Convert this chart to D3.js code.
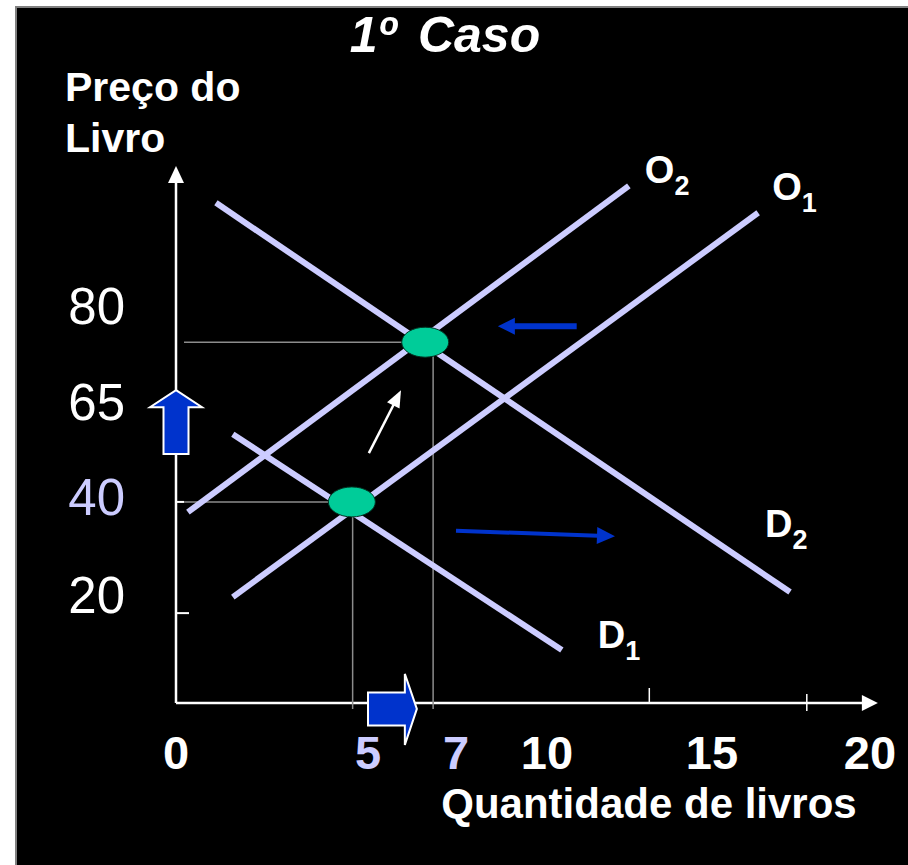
<!DOCTYPE html>
<html>
<head>
<meta charset="utf-8">
<script src="https://cdn.jsdelivr.net/npm/d3@7"></script>
<style>
  body { margin: 0; background: #fff; }
  svg { display: block; font-family: "Liberation Sans", Arial, sans-serif; }
</style>
</head>
<body>
<div id="chart"></div>
<script>
"use strict";

// axis ticks (schematic axis, labels are not evenly spaced)
const qTicks = [0, 5, 7, 10, 15, 20];
const pTicks = [20, 40, 65, 80];
const qHighlight = [5, 7];
const pHighlight = [40];

// small tick marks on the axes
const qMarks = [13.1, 18];
const pMarks = [16.8, 39.2];

// supply (O) and demand (D) curves, [quantity, price]
const curves = [
  { name: "O", sub: "2", from: [0.31, 37.1], to: [12.48, 98.9] },
  { name: "O", sub: "1", from: [1.48, 19.8], to: [16.46, 94.7] },
  { name: "D", sub: "2", from: [1.04, 96.25], to: [17.47, 20.8] },
  { name: "D", sub: "1", from: [1.48, 56.8], to: [10.45, 9.9] }
];

// equilibrium points
const equilibria = [
  { q: 4.58, p: 39.2 },
  { q: 6.3, p: 74.5 }
];
const guideQ = [4.6, 6.48];
const guideP = [39.2, 74.5];

// shift arrows
const thinArrows = [
  { from: [5.02, 51.8], to: [5.75, 67.0], kind: "white" },
  { from: [10.9, 77.0], to: [8.38, 77.0], kind: "blueThick" },
  { from: [7.0, 33.3], to: [12.06, 32.2], kind: "blue" }
];
const blockArrows = [
  { from: [0, 51.6], to: [0, 67.0], dir: "up" },
  { from: [5, -1.1], to: [6.11, -1.1], dir: "right" }
];

const W = 908, H = 865;
const lav = "#ccccff", blue = "#0033cc", green = "#00cc99";

const svg = d3.select("#chart").append("svg")
  .attr("width", W)
  .attr("height", H);

// slide frame
svg.append("rect")
  .attr("x", 16).attr("y", 7)
  .attr("width", W).attr("height", H)
  .attr("fill", "#000")
  .attr("stroke", "#808080")
  .attr("stroke-width", 2);

const x = d3.scaleLinear()
  .domain([0, 5, 7, 10, 15, 20])
  .range([176, 368, 456, 547, 712, 870]);

const y = d3.scaleLinear()
  .domain([0, 20, 40, 65, 80, 102])
  .range([703, 596, 498, 403, 307, 166]);

// title
svg.append("text")
  .attr("x", 445).attr("y", 52)
  .attr("text-anchor", "middle")
  .attr("fill", "#fff")
  .style("font-size", "50px")
  .style("font-weight", "bold")
  .style("font-style", "italic")
  .text("1º")
  .append("tspan")
  .attr("dx", 22)
  .text("Caso");

svg.selectAll(".ytitle")
  .data(["Preço do", "Livro"])
  .join("text")
  .attr("x", 65)
  .attr("y", (d, i) => 101 + i * 51)
  .attr("fill", "#fff")
  .style("font-size", "41px")
  .style("font-weight", "bold")
  .text(d => d);

svg.append("text")
  .attr("x", 649).attr("y", 818)
  .attr("text-anchor", "middle")
  .attr("fill", "#fff")
  .style("font-size", "42px")
  .style("font-weight", "bold")
  .text("Quantidade de livros");

// axes
const axisG = svg.append("g").attr("stroke", "#fff").attr("stroke-width", 2.5);
axisG.append("line")
  .attr("x1", x(0)).attr("y1", y(0))
  .attr("x2", x(0)).attr("y2", y(102) + 14);
axisG.append("line")
  .attr("x1", x(0)).attr("y1", y(0))
  .attr("x2", x(20.25) - 14).attr("y2", y(0));

svg.append("path")
  .attr("d", `M${x(0)},${y(102)} l-8,17 l16,0 z`)
  .attr("fill", "#fff");
svg.append("path")
  .attr("d", `M${x(20.25)},${y(0)} l-16,-8 l0,16 z`)
  .attr("fill", "#fff");

axisG.selectAll(".pmark")
  .data(pMarks)
  .join("line")
  .attr("x1", x(0))
  .attr("x2", (d, i) => x(0) + (i === 0 ? 13 : 8))
  .attr("y1", d => y(d)).attr("y2", d => y(d))
  .attr("stroke-width", 2);

axisG.selectAll(".qmark")
  .data(qMarks)
  .join("line")
  .attr("x1", d => x(d)).attr("x2", d => x(d))
  .attr("y1", (d, i) => y(0) - (i === 0 ? 15 : 9))
  .attr("y2", (d, i) => y(0) + (i === 0 ? 0 : 8))
  .attr("stroke-width", 1.5);

// tick labels
svg.selectAll(".qlabel")
  .data(qTicks)
  .join("text")
  .attr("x", d => x(d))
  .attr("y", 769)
  .attr("text-anchor", "middle")
  .attr("fill", d => qHighlight.includes(d) ? lav : "#fff")
  .style("font-size", "47px")
  .style("font-weight", "bold")
  .text(d => d);

svg.selectAll(".plabel")
  .data(pTicks)
  .join("text")
  .attr("x", 125)
  .attr("y", d => y(d) + 17)
  .attr("text-anchor", "end")
  .attr("fill", d => pHighlight.includes(d) ? lav : "#fff")
  .style("font-size", "51px")
  .text(d => d);

// guide lines to the equilibria
const guides = svg.append("g").attr("stroke", "#8c8c8c").attr("stroke-width", 1.5);
guideP.forEach((p, i) => {
  guides.append("line")
    .attr("x1", x(0) + 8).attr("x2", x(equilibria[i].q) - 20)
    .attr("y1", y(p)).attr("y2", y(p));
  guides.append("line")
    .attr("x1", x(guideQ[i])).attr("x2", x(guideQ[i]))
    .attr("y1", y(equilibria[i].p) + 10).attr("y2", y(0) + 6);
});

// curves
svg.selectAll(".curve")
  .data(curves)
  .join("line")
  .attr("x1", d => x(d.from[0])).attr("y1", d => y(d.from[1]))
  .attr("x2", d => x(d.to[0])).attr("y2", d => y(d.to[1]))
  .attr("stroke", lav)
  .attr("stroke-width", 6);

const labelOffset = { O2: [16, -3], O1: [14, -13], D2: [-25, -55], D1: [36, -2] };
const curveLabels = svg.selectAll(".clabel")
  .data(curves)
  .join("text")
  .attr("x", d => x(d.to[0]) + labelOffset[d.name + d.sub][0])
  .attr("y", d => y(d.to[1]) + labelOffset[d.name + d.sub][1])
  .attr("fill", "#fff")
  .style("font-size", "38px")
  .style("font-weight", "bold")
  .text(d => d.name);
curveLabels.append("tspan")
  .attr("dy", 12)
  .style("font-size", "27px")
  .text(d => d.sub);

// equilibrium points
svg.selectAll(".eq")
  .data(equilibria)
  .join("ellipse")
  .attr("cx", d => x(d.q)).attr("cy", d => y(d.p))
  .attr("rx", 23.5).attr("ry", 15)
  .attr("fill", green)
  .attr("stroke", "#003322")
  .attr("stroke-width", 1);

// thin arrows
const arrowStyle = {
  white: { color: "#fff", w: 2.5, len: 17, half: 7 },
  blueThick: { color: blue, w: 6, len: 17, half: 8.5 },
  blue: { color: blue, w: 4, len: 18, half: 8.5 }
};
thinArrows.forEach(a => {
  const s = arrowStyle[a.kind];
  const x1 = x(a.from[0]), y1 = y(a.from[1]);
  const x2 = x(a.to[0]), y2 = y(a.to[1]);
  const ang = Math.atan2(y2 - y1, x2 - x1);
  const bx = x2 - s.len * Math.cos(ang), by = y2 - s.len * Math.sin(ang);
  const nx = -Math.sin(ang) * s.half, ny = Math.cos(ang) * s.half;
  svg.append("line")
    .attr("x1", x1).attr("y1", y1)
    .attr("x2", bx + Math.cos(ang)).attr("y2", by + Math.sin(ang))
    .attr("stroke", s.color)
    .attr("stroke-width", s.w);
  svg.append("path")
    .attr("d", `M${x2},${y2} L${bx + nx},${by + ny} L${bx - nx},${by - ny} Z`)
    .attr("fill", s.color);
});

// block arrows on the axes
blockArrows.forEach(a => {
  const x1 = x(a.from[0]), y1 = y(a.from[1]);
  const x2 = x(a.to[0]), y2 = y(a.to[1]);
  let d;
  if (a.dir === "up") {
    const hb = y2 + 17;
    d = `M${x2},${y2} L${x2 + 26},${hb} L${x2 + 12.5},${hb} L${x2 + 12.5},${y1}
         L${x2 - 12.5},${y1} L${x2 - 12.5},${hb} L${x2 - 26},${hb} Z`;
  } else {
    const hb = x2 - 12;
    d = `M${x2},${y2} L${hb},${y2 - 35} L${hb},${y2 - 16.5} L${x1},${y2 - 16.5}
         L${x1},${y2 + 16.5} L${hb},${y2 + 16.5} L${hb},${y2 + 36} Z`;
  }
  svg.append("path")
    .attr("d", d)
    .attr("fill", blue)
    .attr("stroke", "#fff")
    .attr("stroke-width", 2);
});
</script>
</body>
</html>
